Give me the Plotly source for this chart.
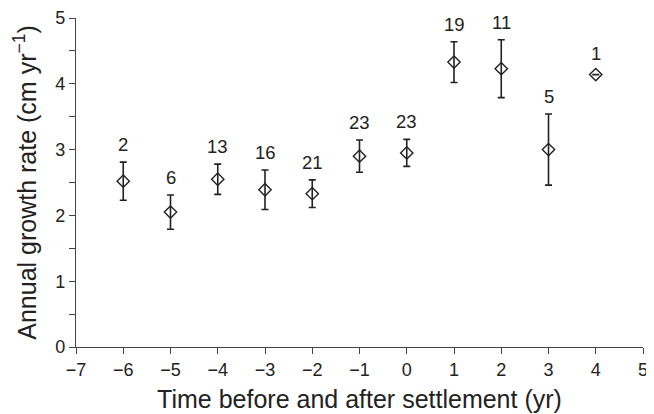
import plotly.graph_objects as go

years = [-6, -5, -4, -3, -2, -1, 0, 1, 2, 3, 4]
growth = [2.52, 2.05, 2.55, 2.39, 2.33, 2.90, 2.95, 4.33, 4.23, 3.00, 4.14]
err = [0.29, 0.26, 0.23, 0.30, 0.21, 0.245, 0.205, 0.31, 0.44, 0.54, 0.0]
n_labels = ["2", "6", "13", "16", "21", "23", "23", "19", "11", "5", "1"]

x_ticks = list(range(-7, 6))
y_ticks = [i * 0.5 for i in range(11)]
y_ticktext = [str(int(v)) if v == int(v) else "" for v in y_ticks]

FONT = "Liberation Sans, Arial, Helvetica, sans-serif"
INK = "#222222"

fig = go.Figure()
fig.add_trace(go.Scatter(
    x=years, y=growth, mode="markers",
    marker=dict(symbol="diamond-open", size=9.5, color=INK, line=dict(width=1.4, color=INK)),
    error_y=dict(type="data", array=err, visible=True, color=INK, thickness=1.6, width=3.5),
    showlegend=False, cliponaxis=False,
))

for x, y, e, t in zip(years, growth, err, n_labels):
    fig.add_annotation(x=x, y=y + e, text=t, showarrow=False, yanchor="bottom",
                       yshift=5 if e > 0 else 9, font=dict(size=18.5, color=INK, family=FONT))

# page body adds an 8px offset, so the figure is sized 8px smaller on each axis
fig.update_layout(
    width=646, height=406,
    margin=dict(l=68, r=11, t=10, b=67),
    paper_bgcolor="white", plot_bgcolor="white",
    font=dict(family=FONT, color=INK),
)
fig.update_xaxes(
    range=[-7, 5], tickmode="array", tickvals=x_ticks, automargin=False,
    showgrid=False, zeroline=False, showline=True, linecolor="#444444", linewidth=1.4,
    ticks="outside", ticklen=6, tickwidth=1.2, tickcolor="#444444",
    tickfont=dict(size=18, color=INK, family=FONT),
    title=dict(text="Time before and after settlement (yr)", font=dict(size=25, color=INK, family=FONT), standoff=11),
)
fig.update_yaxes(
    range=[0, 5], tickmode="array", tickvals=y_ticks, ticktext=y_ticktext, automargin=False,
    showgrid=False, zeroline=False, showline=True, linecolor="#444444", linewidth=1.4,
    ticks="outside", ticklen=6, tickwidth=1.2, tickcolor="#444444",
    tickfont=dict(size=18, color=INK, family=FONT),
    title=dict(text="Annual growth rate (cm yr<sup>−1</sup>)", font=dict(size=25, color=INK, family=FONT), standoff=11),
)

fig.write_html("out.html")
